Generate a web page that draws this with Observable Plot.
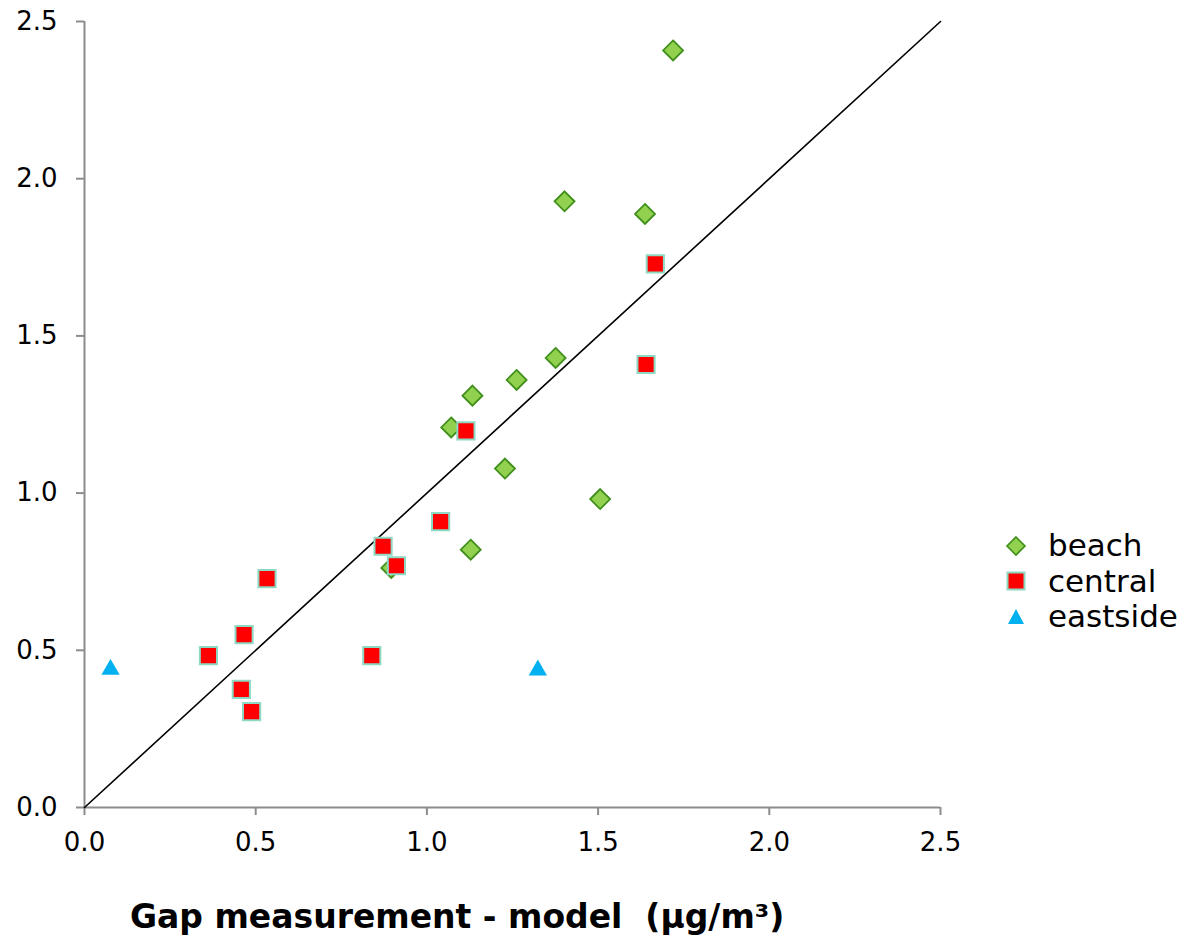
<!DOCTYPE html>
<html><head><meta charset="utf-8">
<script src="https://cdn.jsdelivr.net/npm/d3@7"></script>
<script src="https://cdn.jsdelivr.net/npm/@observablehq/plot@0.6"></script>
<style>
body{margin:0;background:#fff;font-family:"DejaVu Sans",Verdana,sans-serif;}
#wrap{position:relative;width:1194px;height:936px;overflow:hidden;}
#chart{position:absolute;left:0;top:0;}
#title{position:absolute;left:130px;top:900px;font-weight:bold;font-size:33px;line-height:1;white-space:pre;color:#000;}
#legend{position:absolute;left:1004px;top:528px;}
.item{display:flex;align-items:center;height:35.5px;font-size:31px;line-height:1;color:#000;}
.item svg{margin-right:20px;}
</style></head><body>
<div id="wrap"><div id="chart"></div><div id="title"></div><div id="legend"></div></div>
<script>
// ---- data ----
const seriesNames = ["beach", "central", "eastside"];
const beachX = [1.719, 1.402, 1.637, 1.376, 1.262, 1.133, 1.071, 1.228, 1.506, 1.128, 0.896];
const beachY = [2.408, 1.928, 1.888, 1.430, 1.360, 1.310, 1.209, 1.078, 0.981, 0.820, 0.762];
const centralX = [1.667, 1.640, 1.114, 1.040, 0.872, 0.911, 0.839, 0.533, 0.466, 0.362, 0.458, 0.488];
const centralY = [1.729, 1.409, 1.198, 0.909, 0.831, 0.769, 0.483, 0.728, 0.550, 0.483, 0.376, 0.305];
const eastsideX = [0.076, 1.324];
const eastsideY = [0.439, 0.437];
const diagonal = [0, 2.5];
const tickValues = [0, 0.5, 1.0, 1.5, 2.0, 2.5];
const xLabel = "Gap measurement - model  (μg/m³)";

// ---- styles ----
const styles = {
  beach: {symbol: "diamond2", r: 9, fill: "#92D050", stroke: "#3F8F1A", strokeWidth: 1.8},
  central: {symbol: "square", r: 9.7, fill: "#FF0000", stroke: "#8ED9C4", strokeWidth: 2},
  eastside: {symbol: "triangle", r: 6.8, fill: "#00B0F0", stroke: "none", strokeWidth: 0}
};
const toRows = (xs, ys) => xs.map((x, i) => ({x, y: ys[i]}));
const series = {
  beach: toRows(beachX, beachY),
  central: toRows(centralX, centralY),
  eastside: toRows(eastsideX, eastsideY)
};

const axisGray = "#8c8c8c";
const font = "DejaVu Sans, Verdana, sans-serif";

const plot = Plot.plot({
  width: 1194, height: 860,
  marginLeft: 84, marginRight: 254, marginTop: 21, marginBottom: 53,
  x: {domain: [0, 2.5]},
  y: {domain: [0, 2.5]},
  style: {fontFamily: font, background: "#fff", color: "#000", overflow: "visible"},
  marks: [
    Plot.axisY({ticks: tickValues, tickSize: 8, tickPadding: 19, tickFormat: d3.format(".1f"),
      stroke: axisGray, strokeWidth: 2, color: "#000", fontSize: 26, label: null}),
    Plot.axisX({ticks: tickValues, tickSize: 8, tickPadding: 17, tickFormat: d3.format(".1f"),
      stroke: axisGray, strokeWidth: 2, color: "#000", fontSize: 26, label: null}),
    Plot.ruleX([0], {stroke: axisGray, strokeWidth: 2}),
    Plot.ruleY([0], {stroke: axisGray, strokeWidth: 2}),
    Plot.line(diagonal, {x: d => d, y: d => d, stroke: "#000", strokeWidth: 1.6}),
    ...seriesNames.map(name => Plot.dot(series[name], {x: "x", y: "y", ...styles[name]}))
  ]
});
document.getElementById("chart").append(plot);
document.getElementById("title").textContent = xLabel;

// legend
const icons = {
  beach: `<polygon points="12,3 21,12 12,21 3,12" fill="#92D050" stroke="#3F8F1A" stroke-width="1.6"/>`,
  central: `<rect x="3.5" y="3.5" width="17" height="17" fill="#FF0000" stroke="#8ED9C4" stroke-width="2"/>`,
  eastside: `<polygon points="12,4 20,19 4,19" fill="#00B0F0"/>`
};
const legend = document.getElementById("legend");
for (const name of seriesNames) {
  const row = document.createElement("div");
  row.className = "item";
  row.innerHTML = `<svg width="24" height="24" viewBox="0 0 24 24">${icons[name]}</svg><span>${name}</span>`;
  legend.append(row);
}
</script>
</body></html>
